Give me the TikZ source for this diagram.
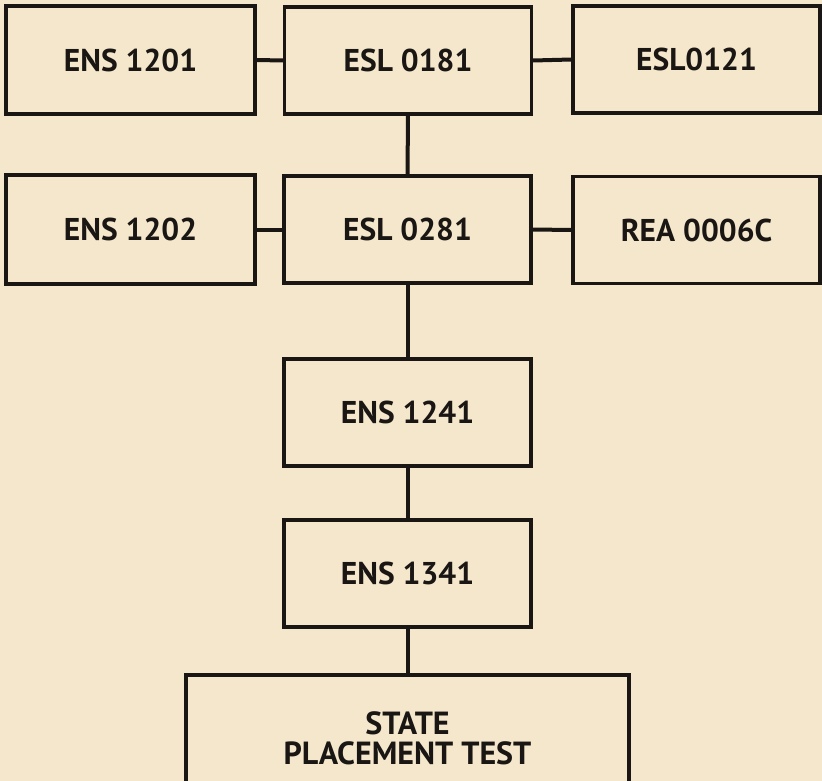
\documentclass[tikz,border=0pt]{standalone}
\usepackage{fontspec}
\setmainfont{PT Sans}
\definecolor{paper}{HTML}{F4E7CB}
\definecolor{ink}{HTML}{1A1614}
\begin{document}
\begin{tikzpicture}[x=1pt,y=-1pt,
  box/.style={draw=ink, line width=3.2pt, fill=paper, inner sep=0pt,
    minimum width=247pt, minimum height=107pt, align=center,
    font=\fontsize{31.5}{33}\selectfont\bfseries, text=ink},
  link/.style={draw=ink, line width=4pt}]
\fill[paper] (0,0) rectangle (822,781);
\useasboundingbox (0,0) rectangle (822,781);
\clip (0,0) rectangle (822,781);
\node[box, minimum width=249pt, minimum height=108pt] (a1) at (130.5,60) {ENS 1201};
\node[box] (a2) at (408,60.5) {ESL 0181};
\node[box] (a3) at (696.5,59.5) {ESL0121};
\node[box, minimum width=249pt, minimum height=109pt] (b1) at (130.5,229.5) {ENS 1202};
\node[box] (b2) at (407.5,229.5) {ESL 0281};
\node[box] (b3) at (696.5,230) {REA 0006C};
\node[box] (c) at (407.5,412.5) {ENS 1241};
\node[box] (d) at (407.5,573.5) {ENS 1341};
\node[box, minimum width=443pt, minimum height=126pt, font=\fontsize{32}{30}\selectfont\bfseries] (e) at (407.5,738) {STATE\\PLACEMENT TEST};
\draw[link] (a1.east) -- (a2.west);
\draw[link] (a2.east) -- (a3.west);
\draw[link] (b1.east) -- (b2.west);
\draw[link] (b2.east) -- (b3.west);
\draw[link] (a2.south) -- (b2.north);
\draw[link] (b2.south) -- (c.north);
\draw[link] (c.south) -- (d.north);
\draw[link] (d.south) -- (e.north);
\end{tikzpicture}
\end{document}
